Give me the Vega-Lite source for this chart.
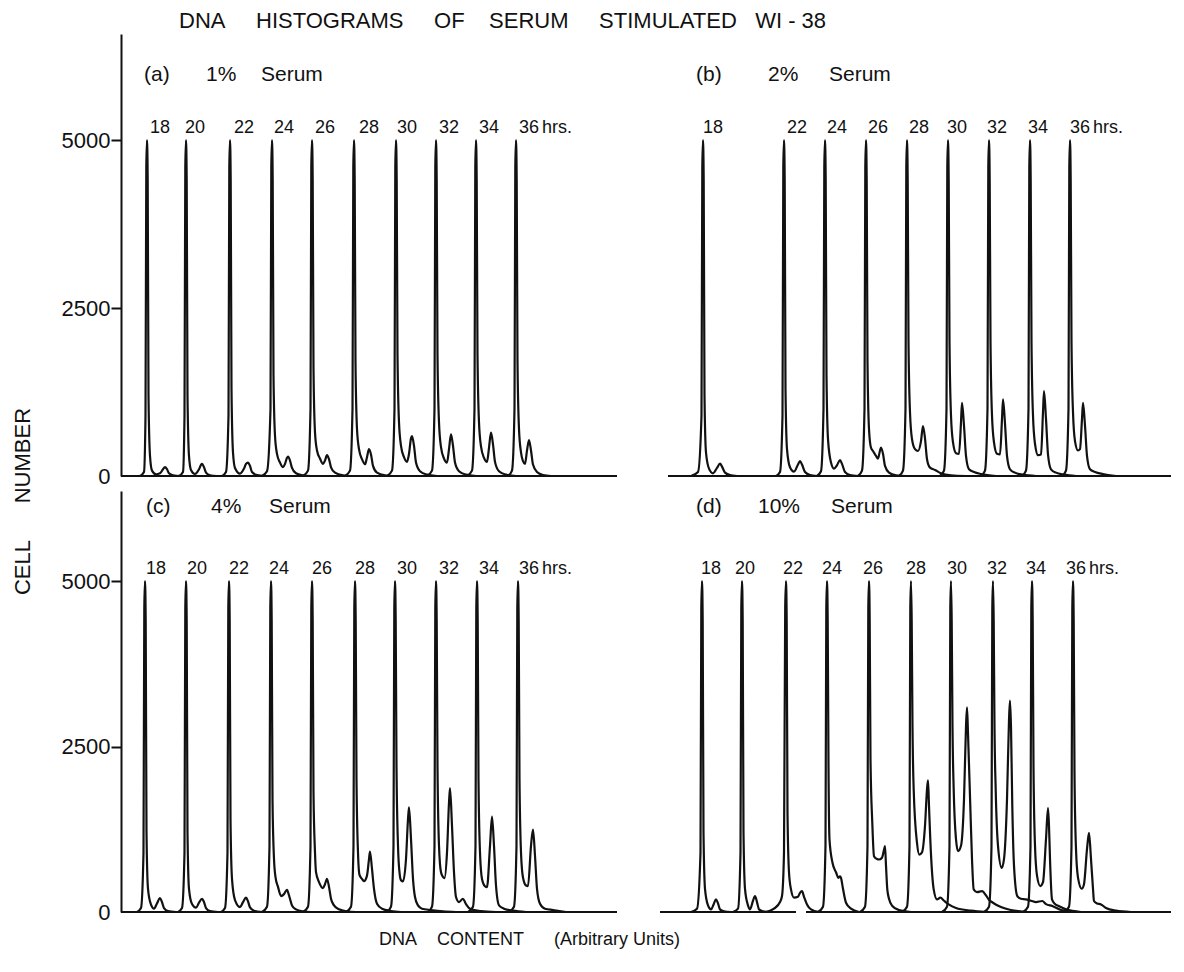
{
"$schema":"https://vega.github.io/schema/vega-lite/v6.json",
"background":"white",
"padding":{"left":11,"top":10,"right":5,"bottom":5},
"bounds":"flush",
"spacing":15,
"title":{"text":"DNA\u00a0\u00a0\u00a0\u00a0\u00a0HISTOGRAMS\u00a0\u00a0\u00a0\u00a0\u00a0OF\u00a0\u00a0\u00a0\u00a0SERUM\u00a0\u00a0\u00a0\u00a0\u00a0STIMULATED\u00a0\u00a0\u00a0WI\u00a0-\u00a038","anchor":"start","dx":168,"fontSize":22,"font":"Liberation Sans","fontWeight":"normal","color":"#111","offset":-16,"baseline":"alphabetic"},
"config":{"view":{"stroke":null},"axis":{"grid":false},"font":"Liberation Sans"},
"datasets":{
"top":[
{"c":"a18","x":19,"y":0},{"c":"a18","x":23,"y":60},{"c":"a18","x":24.5,"y":900},{"c":"a18","x":25.3,"y":4600},{"c":"a18","x":26,"y":5000},{"c":"a18","x":26.7,"y":4400},{"c":"a18","x":27.5,"y":1200},{"c":"a18","x":29,"y":300},{"c":"a18","x":31,"y":80},{"c":"a18","x":35,"y":25},{"c":"a18","x":39,"y":40},{"c":"a18","x":42,"y":100},{"c":"a18","x":44,"y":134},{"c":"a18","x":46,"y":100},{"c":"a18","x":48,"y":40},{"c":"a18","x":52,"y":10},{"c":"a18","x":60,"y":0},
{"c":"a20","x":58,"y":0},{"c":"a20","x":62,"y":60},{"c":"a20","x":63.5,"y":900},{"c":"a20","x":64.3,"y":4600},{"c":"a20","x":65,"y":5000},{"c":"a20","x":65.7,"y":4400},{"c":"a20","x":66.5,"y":1200},{"c":"a20","x":68,"y":300},{"c":"a20","x":70,"y":90},{"c":"a20","x":74,"y":30},{"c":"a20","x":78,"y":100},{"c":"a20","x":80,"y":165},{"c":"a20","x":81,"y":180},{"c":"a20","x":83,"y":130},{"c":"a20","x":85,"y":50},{"c":"a20","x":89,"y":10},{"c":"a20","x":96,"y":0},
{"c":"a22","x":101,"y":0},{"c":"a22","x":105,"y":60},{"c":"a22","x":107.5,"y":900},{"c":"a22","x":108.3,"y":4600},{"c":"a22","x":109,"y":5000},{"c":"a22","x":109.7,"y":4400},{"c":"a22","x":110.5,"y":1300},{"c":"a22","x":112,"y":350},{"c":"a22","x":114,"y":120},{"c":"a22","x":119,"y":35},{"c":"a22","x":123,"y":110},{"c":"a22","x":125,"y":180},{"c":"a22","x":127,"y":200},{"c":"a22","x":129,"y":150},{"c":"a22","x":131,"y":60},{"c":"a22","x":136,"y":15},{"c":"a22","x":144,"y":0},
{"c":"a24","x":141,"y":0},{"c":"a24","x":146,"y":70},{"c":"a24","x":149.5,"y":1000},{"c":"a24","x":150.3,"y":4600},{"c":"a24","x":151,"y":5000},{"c":"a24","x":151.7,"y":4400},{"c":"a24","x":152.5,"y":1500},{"c":"a24","x":154,"y":600},{"c":"a24","x":156,"y":330},{"c":"a24","x":159,"y":200},{"c":"a24","x":162,"y":130},{"c":"a24","x":164,"y":180},{"c":"a24","x":166,"y":270},{"c":"a24","x":167,"y":290},{"c":"a24","x":169,"y":230},{"c":"a24","x":171,"y":120},{"c":"a24","x":175,"y":40},{"c":"a24","x":182,"y":10},{"c":"a24","x":190,"y":0},
{"c":"a26","x":182,"y":0},{"c":"a26","x":187,"y":80},{"c":"a26","x":189.5,"y":1000},{"c":"a26","x":190.3,"y":4600},{"c":"a26","x":191,"y":5000},{"c":"a26","x":191.7,"y":4400},{"c":"a26","x":192.5,"y":1600},{"c":"a26","x":194,"y":650},{"c":"a26","x":196,"y":380},{"c":"a26","x":199,"y":260},{"c":"a26","x":202,"y":180},{"c":"a26","x":204,"y":230},{"c":"a26","x":206,"y":310},{"c":"a26","x":208,"y":250},{"c":"a26","x":210,"y":130},{"c":"a26","x":214,"y":50},{"c":"a26","x":222,"y":10},{"c":"a26","x":230,"y":0},
{"c":"a28","x":224,"y":0},{"c":"a28","x":229,"y":80},{"c":"a28","x":231.5,"y":1000},{"c":"a28","x":232.3,"y":4600},{"c":"a28","x":233,"y":5000},{"c":"a28","x":233.7,"y":4400},{"c":"a28","x":234.5,"y":1700},{"c":"a28","x":236,"y":700},{"c":"a28","x":238,"y":400},{"c":"a28","x":241,"y":250},{"c":"a28","x":244,"y":175},{"c":"a28","x":246,"y":280},{"c":"a28","x":248,"y":400},{"c":"a28","x":250,"y":320},{"c":"a28","x":252,"y":150},{"c":"a28","x":256,"y":50},{"c":"a28","x":264,"y":10},{"c":"a28","x":272,"y":0},
{"c":"a30","x":266,"y":0},{"c":"a30","x":271,"y":80},{"c":"a30","x":273.5,"y":1000},{"c":"a30","x":274.3,"y":4600},{"c":"a30","x":275,"y":5000},{"c":"a30","x":275.7,"y":4400},{"c":"a30","x":276.5,"y":1800},{"c":"a30","x":278,"y":800},{"c":"a30","x":280,"y":450},{"c":"a30","x":283,"y":280},{"c":"a30","x":286,"y":210},{"c":"a30","x":288,"y":330},{"c":"a30","x":290,"y":560},{"c":"a30","x":291,"y":595},{"c":"a30","x":293,"y":450},{"c":"a30","x":295,"y":200},{"c":"a30","x":299,"y":70},{"c":"a30","x":306,"y":20},{"c":"a30","x":316,"y":0},
{"c":"a32","x":306,"y":0},{"c":"a32","x":311,"y":80},{"c":"a32","x":313.5,"y":1000},{"c":"a32","x":314.3,"y":4600},{"c":"a32","x":315,"y":5000},{"c":"a32","x":315.7,"y":4400},{"c":"a32","x":316.5,"y":1800},{"c":"a32","x":318,"y":800},{"c":"a32","x":320,"y":430},{"c":"a32","x":323,"y":260},{"c":"a32","x":326,"y":200},{"c":"a32","x":328,"y":400},{"c":"a32","x":330,"y":620},{"c":"a32","x":332,"y":450},{"c":"a32","x":334,"y":200},{"c":"a32","x":338,"y":70},{"c":"a32","x":345,"y":20},{"c":"a32","x":355,"y":0},
{"c":"a34","x":346,"y":0},{"c":"a34","x":351,"y":80},{"c":"a34","x":353.5,"y":1000},{"c":"a34","x":354.3,"y":4600},{"c":"a34","x":355,"y":5000},{"c":"a34","x":355.7,"y":4400},{"c":"a34","x":356.5,"y":1800},{"c":"a34","x":358,"y":800},{"c":"a34","x":360,"y":440},{"c":"a34","x":363,"y":270},{"c":"a34","x":366,"y":210},{"c":"a34","x":368,"y":420},{"c":"a34","x":370,"y":645},{"c":"a34","x":372,"y":470},{"c":"a34","x":374,"y":210},{"c":"a34","x":378,"y":70},{"c":"a34","x":385,"y":20},{"c":"a34","x":395,"y":0},
{"c":"a36","x":387,"y":0},{"c":"a36","x":391,"y":80},{"c":"a36","x":393.5,"y":1000},{"c":"a36","x":394.3,"y":4600},{"c":"a36","x":395,"y":5000},{"c":"a36","x":395.7,"y":4400},{"c":"a36","x":396.5,"y":1700},{"c":"a36","x":398,"y":700},{"c":"a36","x":400,"y":350},{"c":"a36","x":402,"y":220},{"c":"a36","x":404,"y":180},{"c":"a36","x":406,"y":380},{"c":"a36","x":408,"y":535},{"c":"a36","x":410,"y":380},{"c":"a36","x":412,"y":170},{"c":"a36","x":416,"y":60},{"c":"a36","x":422,"y":15},{"c":"a36","x":430,"y":0},
{"c":"b18","x":570,"y":0},{"c":"b18","x":577,"y":60},{"c":"b18","x":580.5,"y":900},{"c":"b18","x":581.3,"y":4600},{"c":"b18","x":582,"y":5000},{"c":"b18","x":582.7,"y":4400},{"c":"b18","x":583.5,"y":1200},{"c":"b18","x":585,"y":350},{"c":"b18","x":588,"y":110},{"c":"b18","x":592,"y":40},{"c":"b18","x":596,"y":120},{"c":"b18","x":599,"y":183},{"c":"b18","x":601,"y":140},{"c":"b18","x":604,"y":50},{"c":"b18","x":609,"y":15},{"c":"b18","x":616,"y":0},
{"c":"b22","x":655,"y":0},{"c":"b22","x":659,"y":60},{"c":"b22","x":661.5,"y":900},{"c":"b22","x":662.3,"y":4600},{"c":"b22","x":663,"y":5000},{"c":"b22","x":663.7,"y":4400},{"c":"b22","x":664.5,"y":1300},{"c":"b22","x":666,"y":400},{"c":"b22","x":669,"y":130},{"c":"b22","x":673,"y":65},{"c":"b22","x":677,"y":170},{"c":"b22","x":679,"y":223},{"c":"b22","x":681,"y":170},{"c":"b22","x":684,"y":60},{"c":"b22","x":689,"y":15},{"c":"b22","x":696,"y":0},
{"c":"b24","x":696,"y":0},{"c":"b24","x":700,"y":70},{"c":"b24","x":702.5,"y":1000},{"c":"b24","x":703.3,"y":4600},{"c":"b24","x":704,"y":5000},{"c":"b24","x":704.7,"y":4400},{"c":"b24","x":705.5,"y":1500},{"c":"b24","x":707,"y":550},{"c":"b24","x":710,"y":200},{"c":"b24","x":713,"y":110},{"c":"b24","x":716,"y":160},{"c":"b24","x":719,"y":238},{"c":"b24","x":721,"y":180},{"c":"b24","x":724,"y":60},{"c":"b24","x":729,"y":15},{"c":"b24","x":737,"y":0},
{"c":"b26","x":737,"y":0},{"c":"b26","x":741,"y":80},{"c":"b26","x":743.5,"y":1000},{"c":"b26","x":744.3,"y":4600},{"c":"b26","x":745,"y":5000},{"c":"b26","x":745.7,"y":4400},{"c":"b26","x":746.5,"y":1700},{"c":"b26","x":748,"y":700},{"c":"b26","x":750,"y":420},{"c":"b26","x":752,"y":372},{"c":"b26","x":755,"y":300},{"c":"b26","x":757,"y":260},{"c":"b26","x":759,"y":380},{"c":"b26","x":760,"y":422},{"c":"b26","x":762,"y":330},{"c":"b26","x":764,"y":150},{"c":"b26","x":768,"y":50},{"c":"b26","x":775,"y":10},{"c":"b26","x":785,"y":0},
{"c":"b28","x":778,"y":0},{"c":"b28","x":782,"y":80},{"c":"b28","x":784.5,"y":1000},{"c":"b28","x":785.3,"y":4600},{"c":"b28","x":786,"y":5000},{"c":"b28","x":786.7,"y":4400},{"c":"b28","x":787.5,"y":2000},{"c":"b28","x":789,"y":950},{"c":"b28","x":791,"y":550},{"c":"b28","x":794,"y":400},{"c":"b28","x":797,"y":372},{"c":"b28","x":800,"y":520},{"c":"b28","x":802,"y":744},{"c":"b28","x":804,"y":560},{"c":"b28","x":806,"y":250},{"c":"b28","x":809,"y":124},{"c":"b28","x":814,"y":90},{"c":"b28","x":820,"y":40},{"c":"b28","x":830,"y":10},{"c":"b28","x":845,"y":0},
{"c":"b30","x":819,"y":0},{"c":"b30","x":823,"y":80},{"c":"b30","x":825.5,"y":1000},{"c":"b30","x":826.3,"y":4600},{"c":"b30","x":827,"y":5000},{"c":"b30","x":827.7,"y":4400},{"c":"b30","x":828.5,"y":2000},{"c":"b30","x":830,"y":900},{"c":"b30","x":832,"y":500},{"c":"b30","x":835,"y":340},{"c":"b30","x":838,"y":330},{"c":"b30","x":840,"y":800},{"c":"b30","x":841,"y":1090},{"c":"b30","x":843,"y":750},{"c":"b30","x":845,"y":300},{"c":"b30","x":848,"y":100},{"c":"b30","x":853,"y":60},{"c":"b30","x":860,"y":30},{"c":"b30","x":875,"y":0},
{"c":"b32","x":860,"y":0},{"c":"b32","x":864,"y":80},{"c":"b32","x":866.5,"y":1000},{"c":"b32","x":867.3,"y":4600},{"c":"b32","x":868,"y":5000},{"c":"b32","x":868.7,"y":4400},{"c":"b32","x":869.5,"y":2000},{"c":"b32","x":871,"y":900},{"c":"b32","x":873,"y":500},{"c":"b32","x":876,"y":330},{"c":"b32","x":879,"y":320},{"c":"b32","x":881,"y":850},{"c":"b32","x":882,"y":1141},{"c":"b32","x":884,"y":780},{"c":"b32","x":886,"y":300},{"c":"b32","x":889,"y":100},{"c":"b32","x":894,"y":50},{"c":"b32","x":902,"y":20},{"c":"b32","x":915,"y":0},
{"c":"b34","x":901,"y":0},{"c":"b34","x":905,"y":80},{"c":"b34","x":907.5,"y":1000},{"c":"b34","x":908.3,"y":4600},{"c":"b34","x":909,"y":5000},{"c":"b34","x":909.7,"y":4400},{"c":"b34","x":910.5,"y":2000},{"c":"b34","x":912,"y":900},{"c":"b34","x":914,"y":480},{"c":"b34","x":917,"y":310},{"c":"b34","x":920,"y":320},{"c":"b34","x":922,"y":950},{"c":"b34","x":923,"y":1265},{"c":"b34","x":925,"y":850},{"c":"b34","x":927,"y":320},{"c":"b34","x":930,"y":100},{"c":"b34","x":935,"y":50},{"c":"b34","x":943,"y":20},{"c":"b34","x":955,"y":0},
{"c":"b36","x":941,"y":0},{"c":"b36","x":945,"y":80},{"c":"b36","x":947.5,"y":1000},{"c":"b36","x":948.3,"y":4600},{"c":"b36","x":949,"y":5000},{"c":"b36","x":949.7,"y":4400},{"c":"b36","x":950.5,"y":2000},{"c":"b36","x":952,"y":950},{"c":"b36","x":954,"y":520},{"c":"b36","x":957,"y":380},{"c":"b36","x":959,"y":400},{"c":"b36","x":961,"y":850},{"c":"b36","x":962,"y":1090},{"c":"b36","x":964,"y":750},{"c":"b36","x":966,"y":300},{"c":"b36","x":969,"y":100},{"c":"b36","x":974,"y":60},{"c":"b36","x":982,"y":30},{"c":"b36","x":995,"y":0}
],
"bot":[
{"c":"c18","x":16,"y":0},{"c":"c18","x":20,"y":60},{"c":"c18","x":22.5,"y":900},{"c":"c18","x":23.3,"y":4600},{"c":"c18","x":24,"y":5000},{"c":"c18","x":24.7,"y":4400},{"c":"c18","x":25.5,"y":1200},{"c":"c18","x":27,"y":350},{"c":"c18","x":30,"y":110},{"c":"c18","x":33,"y":50},{"c":"c18","x":36,"y":130},{"c":"c18","x":39,"y":211},{"c":"c18","x":41,"y":150},{"c":"c18","x":43,"y":60},{"c":"c18","x":47,"y":15},{"c":"c18","x":55,"y":0},
{"c":"c20","x":57,"y":0},{"c":"c20","x":61,"y":60},{"c":"c20","x":63.5,"y":900},{"c":"c20","x":64.3,"y":4600},{"c":"c20","x":65,"y":5000},{"c":"c20","x":65.7,"y":4400},{"c":"c20","x":66.5,"y":1200},{"c":"c20","x":68,"y":350},{"c":"c20","x":71,"y":120},{"c":"c20","x":75,"y":65},{"c":"c20","x":78,"y":140},{"c":"c20","x":81,"y":200},{"c":"c20","x":83,"y":150},{"c":"c20","x":85,"y":60},{"c":"c20","x":89,"y":15},{"c":"c20","x":97,"y":0},
{"c":"c22","x":100,"y":0},{"c":"c22","x":104,"y":60},{"c":"c22","x":106.5,"y":900},{"c":"c22","x":107.3,"y":4600},{"c":"c22","x":108,"y":5000},{"c":"c22","x":108.7,"y":4400},{"c":"c22","x":109.5,"y":1400},{"c":"c22","x":111,"y":500},{"c":"c22","x":114,"y":180},{"c":"c22","x":119,"y":75},{"c":"c22","x":122,"y":150},{"c":"c22","x":125,"y":216},{"c":"c22","x":127,"y":160},{"c":"c22","x":129,"y":70},{"c":"c22","x":133,"y":20},{"c":"c22","x":141,"y":0},
{"c":"c24","x":141,"y":0},{"c":"c24","x":146,"y":80},{"c":"c24","x":148.5,"y":1000},{"c":"c24","x":149.3,"y":4600},{"c":"c24","x":150,"y":5000},{"c":"c24","x":150.7,"y":4400},{"c":"c24","x":151.5,"y":1700},{"c":"c24","x":153,"y":800},{"c":"c24","x":154.5,"y":527},{"c":"c24","x":157,"y":380},{"c":"c24","x":160,"y":241},{"c":"c24","x":163,"y":270},{"c":"c24","x":166,"y":336},{"c":"c24","x":168,"y":250},{"c":"c24","x":171,"y":100},{"c":"c24","x":175,"y":40},{"c":"c24","x":182,"y":10},{"c":"c24","x":190,"y":0},
{"c":"c26","x":182,"y":0},{"c":"c26","x":187,"y":80},{"c":"c26","x":189.5,"y":1000},{"c":"c26","x":190.3,"y":4600},{"c":"c26","x":191,"y":5000},{"c":"c26","x":191.7,"y":4400},{"c":"c26","x":192.5,"y":1800},{"c":"c26","x":194,"y":900},{"c":"c26","x":195,"y":602},{"c":"c26","x":198,"y":452},{"c":"c26","x":202,"y":361},{"c":"c26","x":204,"y":420},{"c":"c26","x":206,"y":502},{"c":"c26","x":208,"y":380},{"c":"c26","x":210,"y":200},{"c":"c26","x":213,"y":100},{"c":"c26","x":218,"y":40},{"c":"c26","x":226,"y":10},{"c":"c26","x":235,"y":0},
{"c":"c28","x":225,"y":0},{"c":"c28","x":230,"y":80},{"c":"c28","x":232.5,"y":1000},{"c":"c28","x":233.3,"y":4600},{"c":"c28","x":234,"y":5000},{"c":"c28","x":234.7,"y":4400},{"c":"c28","x":235.5,"y":2000},{"c":"c28","x":237,"y":900},{"c":"c28","x":238.5,"y":560},{"c":"c28","x":241,"y":500},{"c":"c28","x":243,"y":467},{"c":"c28","x":246,"y":550},{"c":"c28","x":248,"y":800},{"c":"c28","x":249,"y":914},{"c":"c28","x":251,"y":650},{"c":"c28","x":253,"y":350},{"c":"c28","x":256,"y":125},{"c":"c28","x":261,"y":50},{"c":"c28","x":270,"y":15},{"c":"c28","x":280,"y":0},
{"c":"c30","x":266,"y":0},{"c":"c30","x":270,"y":80},{"c":"c30","x":272.5,"y":1000},{"c":"c30","x":273.3,"y":4600},{"c":"c30","x":274,"y":5000},{"c":"c30","x":274.7,"y":4400},{"c":"c30","x":275.5,"y":2200},{"c":"c30","x":277,"y":1000},{"c":"c30","x":278.5,"y":600},{"c":"c30","x":280,"y":480},{"c":"c30","x":282,"y":462},{"c":"c30","x":285,"y":800},{"c":"c30","x":287,"y":1400},{"c":"c30","x":288,"y":1581},{"c":"c30","x":290,"y":1100},{"c":"c30","x":292,"y":500},{"c":"c30","x":294,"y":226},{"c":"c30","x":297,"y":100},{"c":"c30","x":301,"y":50},{"c":"c30","x":310,"y":30},{"c":"c30","x":322,"y":10},{"c":"c30","x":335,"y":0},
{"c":"c32","x":307,"y":0},{"c":"c32","x":311,"y":80},{"c":"c32","x":313.5,"y":1000},{"c":"c32","x":314.3,"y":4600},{"c":"c32","x":315,"y":5000},{"c":"c32","x":315.7,"y":4400},{"c":"c32","x":316.5,"y":2200},{"c":"c32","x":318,"y":1000},{"c":"c32","x":320,"y":600},{"c":"c32","x":322,"y":530},{"c":"c32","x":323.5,"y":512},{"c":"c32","x":326,"y":900},{"c":"c32","x":328,"y":1650},{"c":"c32","x":329,"y":1872},{"c":"c32","x":331,"y":1300},{"c":"c32","x":333,"y":600},{"c":"c32","x":335,"y":226},{"c":"c32","x":338,"y":150},{"c":"c32","x":342,"y":200},{"c":"c32","x":345,"y":120},{"c":"c32","x":350,"y":40},{"c":"c32","x":360,"y":15},{"c":"c32","x":375,"y":0},
{"c":"c34","x":347,"y":0},{"c":"c34","x":352,"y":80},{"c":"c34","x":354.5,"y":1000},{"c":"c34","x":355.3,"y":4600},{"c":"c34","x":356,"y":5000},{"c":"c34","x":356.7,"y":4400},{"c":"c34","x":357.5,"y":2000},{"c":"c34","x":359,"y":900},{"c":"c34","x":361,"y":500},{"c":"c34","x":364,"y":390},{"c":"c34","x":366,"y":376},{"c":"c34","x":369,"y":1000},{"c":"c34","x":371,"y":1441},{"c":"c34","x":373,"y":1000},{"c":"c34","x":375,"y":400},{"c":"c34","x":378,"y":100},{"c":"c34","x":383,"y":50},{"c":"c34","x":392,"y":20},{"c":"c34","x":405,"y":0},
{"c":"c36","x":388,"y":0},{"c":"c36","x":393,"y":80},{"c":"c36","x":395.5,"y":1000},{"c":"c36","x":396.3,"y":4600},{"c":"c36","x":397,"y":5000},{"c":"c36","x":397.7,"y":4400},{"c":"c36","x":398.5,"y":2000},{"c":"c36","x":400,"y":900},{"c":"c36","x":402,"y":520},{"c":"c36","x":405,"y":400},{"c":"c36","x":407,"y":392},{"c":"c36","x":410,"y":1000},{"c":"c36","x":412,"y":1245},{"c":"c36","x":414,"y":850},{"c":"c36","x":416,"y":350},{"c":"c36","x":419,"y":125},{"c":"c36","x":424,"y":50},{"c":"c36","x":432,"y":30},{"c":"c36","x":445,"y":0},
{"c":"d18","x":570,"y":0},{"c":"d18","x":576,"y":50},{"c":"d18","x":579.5,"y":900},{"c":"d18","x":580.3,"y":4600},{"c":"d18","x":581,"y":5000},{"c":"d18","x":581.7,"y":4400},{"c":"d18","x":582.5,"y":1200},{"c":"d18","x":584,"y":350},{"c":"d18","x":587,"y":100},{"c":"d18","x":590,"y":40},{"c":"d18","x":593,"y":130},{"c":"d18","x":595,"y":191},{"c":"d18","x":597,"y":130},{"c":"d18","x":599,"y":40},{"c":"d18","x":603,"y":10},{"c":"d18","x":610,"y":0},
{"c":"d20","x":612,"y":0},{"c":"d20","x":617,"y":50},{"c":"d20","x":619.5,"y":900},{"c":"d20","x":620.3,"y":4600},{"c":"d20","x":621,"y":5000},{"c":"d20","x":621.7,"y":4400},{"c":"d20","x":622.5,"y":1200},{"c":"d20","x":624,"y":350},{"c":"d20","x":627,"y":100},{"c":"d20","x":629,"y":40},{"c":"d20","x":632,"y":170},{"c":"d20","x":634,"y":241},{"c":"d20","x":636,"y":150},{"c":"d20","x":638,"y":40},{"c":"d20","x":642,"y":10},{"c":"d20","x":650,"y":0},
{"c":"d22","x":645,"y":0},{"c":"d22","x":653,"y":50},{"c":"d22","x":659,"y":150},{"c":"d22","x":661,"y":241},{"c":"d22","x":663,"y":900},{"c":"d22","x":664.2,"y":4600},{"c":"d22","x":665,"y":5000},{"c":"d22","x":665.7,"y":4400},{"c":"d22","x":666.5,"y":1500},{"c":"d22","x":668,"y":600},{"c":"d22","x":670,"y":341},{"c":"d22","x":673,"y":216},{"c":"d22","x":677,"y":230},{"c":"d22","x":679,"y":290},{"c":"d22","x":681,"y":316},{"c":"d22","x":683,"y":230},{"c":"d22","x":686,"y":115},{"c":"d22","x":690,"y":40},{"c":"d22","x":698,"y":0},
{"c":"d24","x":697,"y":0},{"c":"d24","x":702,"y":80},{"c":"d24","x":704.5,"y":1000},{"c":"d24","x":705.3,"y":4600},{"c":"d24","x":706,"y":5000},{"c":"d24","x":706.7,"y":4400},{"c":"d24","x":707.5,"y":2200},{"c":"d24","x":708.5,"y":1094},{"c":"d24","x":711.5,"y":743},{"c":"d24","x":715,"y":600},{"c":"d24","x":717.5,"y":517},{"c":"d24","x":719,"y":540},{"c":"d24","x":720,"y":517},{"c":"d24","x":722,"y":350},{"c":"d24","x":725,"y":140},{"c":"d24","x":730,"y":50},{"c":"d24","x":738,"y":0},
{"c":"d26","x":739,"y":0},{"c":"d26","x":744,"y":80},{"c":"d26","x":746.5,"y":1000},{"c":"d26","x":747.3,"y":4600},{"c":"d26","x":748,"y":5000},{"c":"d26","x":748.7,"y":4400},{"c":"d26","x":749.5,"y":2300},{"c":"d26","x":751.3,"y":1345},{"c":"d26","x":753,"y":843},{"c":"d26","x":756,"y":800},{"c":"d26","x":758,"y":793},{"c":"d26","x":761,"y":820},{"c":"d26","x":763,"y":940},{"c":"d26","x":764,"y":994},{"c":"d26","x":765,"y":700},{"c":"d26","x":766.3,"y":341},{"c":"d26","x":768,"y":200},{"c":"d26","x":771.3,"y":90},{"c":"d26","x":778,"y":30},{"c":"d26","x":790,"y":0},
{"c":"d28","x":781,"y":0},{"c":"d28","x":786,"y":80},{"c":"d28","x":788.5,"y":1000},{"c":"d28","x":789.3,"y":4600},{"c":"d28","x":790,"y":5000},{"c":"d28","x":790.7,"y":4400},{"c":"d28","x":791.5,"y":2800},{"c":"d28","x":792.7,"y":1847},{"c":"d28","x":796,"y":1044},{"c":"d28","x":798.3,"y":868},{"c":"d28","x":801,"y":900},{"c":"d28","x":804,"y":1300},{"c":"d28","x":806,"y":1850},{"c":"d28","x":807,"y":1988},{"c":"d28","x":808,"y":1600},{"c":"d28","x":809.3,"y":1094},{"c":"d28","x":812.7,"y":341},{"c":"d28","x":816,"y":190},{"c":"d28","x":819.3,"y":216},{"c":"d28","x":823,"y":170},{"c":"d28","x":827.7,"y":115},{"c":"d28","x":835,"y":60},{"c":"d28","x":850,"y":20},{"c":"d28","x":865,"y":0},
{"c":"d30","x":821,"y":0},{"c":"d30","x":826,"y":80},{"c":"d30","x":828.5,"y":1000},{"c":"d30","x":829.3,"y":4600},{"c":"d30","x":830,"y":5000},{"c":"d30","x":830.7,"y":4400},{"c":"d30","x":831.5,"y":2800},{"c":"d30","x":832.7,"y":1847},{"c":"d30","x":835,"y":1100},{"c":"d30","x":837,"y":919},{"c":"d30","x":840,"y":1000},{"c":"d30","x":843,"y":1700},{"c":"d30","x":845,"y":2800},{"c":"d30","x":846,"y":3092},{"c":"d30","x":847,"y":2700},{"c":"d30","x":849.3,"y":1596},{"c":"d30","x":851,"y":800},{"c":"d30","x":852.7,"y":341},{"c":"d30","x":856,"y":300},{"c":"d30","x":861,"y":316},{"c":"d30","x":865,"y":250},{"c":"d30","x":867.7,"y":190},{"c":"d30","x":872,"y":140},{"c":"d30","x":877.7,"y":90},{"c":"d30","x":890,"y":30},{"c":"d30","x":905,"y":0},
{"c":"d32","x":863,"y":0},{"c":"d32","x":868,"y":80},{"c":"d32","x":870.5,"y":1000},{"c":"d32","x":871.3,"y":4600},{"c":"d32","x":872,"y":5000},{"c":"d32","x":872.7,"y":4400},{"c":"d32","x":873.5,"y":2800},{"c":"d32","x":874.7,"y":1847},{"c":"d32","x":877,"y":1000},{"c":"d32","x":880.7,"y":668},{"c":"d32","x":883,"y":800},{"c":"d32","x":886,"y":1700},{"c":"d32","x":888,"y":2900},{"c":"d32","x":889,"y":3193},{"c":"d32","x":890,"y":2800},{"c":"d32","x":891.3,"y":1596},{"c":"d32","x":893,"y":700},{"c":"d32","x":896.3,"y":241},{"c":"d32","x":900,"y":200},{"c":"d32","x":904.7,"y":190},{"c":"d32","x":910,"y":170},{"c":"d32","x":915,"y":150},{"c":"d32","x":921.3,"y":166},{"c":"d32","x":925,"y":120},{"c":"d32","x":931.3,"y":90},{"c":"d32","x":940,"y":30},{"c":"d32","x":955,"y":0},
{"c":"d34","x":902,"y":0},{"c":"d34","x":907,"y":80},{"c":"d34","x":909.5,"y":1000},{"c":"d34","x":910.3,"y":4600},{"c":"d34","x":911,"y":5000},{"c":"d34","x":911.7,"y":4400},{"c":"d34","x":912.5,"y":2200},{"c":"d34","x":914,"y":1000},{"c":"d34","x":916,"y":550},{"c":"d34","x":919.3,"y":392},{"c":"d34","x":922,"y":450},{"c":"d34","x":925,"y":1100},{"c":"d34","x":927,"y":1571},{"c":"d34","x":928,"y":1300},{"c":"d34","x":929,"y":800},{"c":"d34","x":931,"y":190},{"c":"d34","x":934,"y":120},{"c":"d34","x":937.7,"y":90},{"c":"d34","x":945,"y":40},{"c":"d34","x":960,"y":0},
{"c":"d36","x":943,"y":0},{"c":"d36","x":948,"y":80},{"c":"d36","x":950.5,"y":1000},{"c":"d36","x":951.3,"y":4600},{"c":"d36","x":952,"y":5000},{"c":"d36","x":952.7,"y":4400},{"c":"d36","x":953.5,"y":2100},{"c":"d36","x":955,"y":950},{"c":"d36","x":957,"y":520},{"c":"d36","x":960.7,"y":351},{"c":"d36","x":963,"y":420},{"c":"d36","x":966,"y":950},{"c":"d36","x":968,"y":1195},{"c":"d36","x":970,"y":800},{"c":"d36","x":972,"y":350},{"c":"d36","x":973,"y":166},{"c":"d36","x":976,"y":130},{"c":"d36","x":980,"y":115},{"c":"d36","x":985,"y":60},{"c":"d36","x":995,"y":20},{"c":"d36","x":1010,"y":0}
],
"topBase":[{"x":0,"x2":496},{"x":547,"x2":1050}],
"botBase":[{"x":0,"x2":496},{"x":539,"x2":675},{"x":685,"x2":1050}],
"topText":[
{"k":"panel","t":"(a)","x":23,"y":5970},{"k":"panel","t":"1%","x":85,"y":5970},{"k":"panel","t":"Serum","x":140,"y":5970},
{"k":"panel","t":"(b)","x":575,"y":5970},{"k":"panel","t":"2%","x":647,"y":5970},{"k":"panel","t":"Serum","x":708,"y":5970},
{"k":"time","t":"18","x":29,"y":5181},{"k":"time","t":"20","x":64,"y":5181},{"k":"time","t":"22","x":113,"y":5181},{"k":"time","t":"24","x":153,"y":5181},{"k":"time","t":"26","x":194,"y":5181},{"k":"time","t":"28","x":238,"y":5181},{"k":"time","t":"30","x":276,"y":5181},{"k":"time","t":"32","x":318,"y":5181},{"k":"time","t":"34","x":358,"y":5181},{"k":"time","t":"36","x":398,"y":5181},{"k":"time","t":"hrs.","x":421,"y":5181},
{"k":"time","t":"18","x":582,"y":5181},{"k":"time","t":"22","x":666,"y":5181},{"k":"time","t":"24","x":706,"y":5181},{"k":"time","t":"26","x":747,"y":5181},{"k":"time","t":"28","x":788,"y":5181},{"k":"time","t":"30","x":826,"y":5181},{"k":"time","t":"32","x":866,"y":5181},{"k":"time","t":"34","x":907,"y":5181},{"k":"time","t":"36","x":949,"y":5181},{"k":"time","t":"hrs.","x":972,"y":5181}
],
"botText":[
{"k":"panel","t":"(c)","x":25,"y":6118},{"k":"panel","t":"4%","x":90,"y":6118},{"k":"panel","t":"Serum","x":148,"y":6118},
{"k":"panel","t":"(d)","x":575,"y":6118},{"k":"panel","t":"10%","x":637,"y":6118},{"k":"panel","t":"Serum","x":710,"y":6118},
{"k":"time","t":"18","x":25,"y":5182},{"k":"time","t":"20","x":66,"y":5182},{"k":"time","t":"22","x":108,"y":5182},{"k":"time","t":"24","x":148,"y":5182},{"k":"time","t":"26","x":191,"y":5182},{"k":"time","t":"28","x":234,"y":5182},{"k":"time","t":"30","x":276,"y":5182},{"k":"time","t":"32","x":318,"y":5182},{"k":"time","t":"34","x":358,"y":5182},{"k":"time","t":"36","x":398,"y":5182},{"k":"time","t":"hrs.","x":421,"y":5182},
{"k":"time","t":"18","x":580,"y":5182},{"k":"time","t":"20","x":614,"y":5182},{"k":"time","t":"22","x":662,"y":5182},{"k":"time","t":"24","x":701,"y":5182},{"k":"time","t":"26","x":742,"y":5182},{"k":"time","t":"28","x":785,"y":5182},{"k":"time","t":"30","x":826,"y":5182},{"k":"time","t":"32","x":866,"y":5182},{"k":"time","t":"34","x":905,"y":5182},{"k":"time","t":"36","x":945,"y":5182},{"k":"time","t":"hrs.","x":968,"y":5182}
]
},
"vconcat":[
{
"width":1050,"height":442,
"layer":[
{"data":{"name":"top"},"mark":{"type":"line","color":"#111","strokeWidth":2.2,"strokeJoin":"round","interpolate":"monotone"},
 "encoding":{
  "x":{"field":"x","type":"quantitative","scale":{"domain":[0,1050],"nice":false,"zero":false},"axis":null},
  "y":{"field":"y","type":"quantitative","scale":{"domain":[0,6580],"nice":false},
       "axis":{"values":[0,2500,5000],"format":"d","title":"CELL\u00a0\u00a0\u00a0\u00a0\u00a0\u00a0NUMBER","titleX":-99,"titleY":467,"titleAngle":-90,"titleAlign":"center","titleBaseline":"middle","titleFontSize":22,"titleFontWeight":"normal","titleFont":"Liberation Sans","titleColor":"#111","labelFontSize":22,"labelFont":"Liberation Sans","labelColor":"#111","labelPadding":1,"tickSize":10,"tickWidth":2,"tickColor":"#111","tickOpacity":{"condition":{"test":"datum.value === 0","value":0},"value":1},"domainWidth":2,"domainColor":"#111"}},
  "detail":{"field":"c","type":"nominal"}}},
{"data":{"name":"topBase"},"mark":{"type":"rule","color":"#111","strokeWidth":2},
 "encoding":{"x":{"field":"x","type":"quantitative"},"x2":{"field":"x2"},"y":{"datum":0,"type":"quantitative"}}},
{"data":{"name":"topText"},"transform":[{"filter":"datum.k === 'panel'"}],"mark":{"type":"text","align":"left","baseline":"middle","fontSize":21,"font":"Liberation Sans","color":"#111"},
 "encoding":{"x":{"field":"x","type":"quantitative"},"y":{"field":"y","type":"quantitative"},"text":{"field":"t"}}},
{"data":{"name":"topText"},"transform":[{"filter":"datum.k === 'time'"}],"mark":{"type":"text","align":"left","baseline":"middle","fontSize":18,"font":"Liberation Sans","color":"#111"},
 "encoding":{"x":{"field":"x","type":"quantitative"},"y":{"field":"y","type":"quantitative"},"text":{"field":"t"}}}
]
},
{
"width":1050,"height":421,
"layer":[
{"data":{"name":"bot"},"mark":{"type":"line","color":"#111","strokeWidth":2.2,"strokeJoin":"round","interpolate":"monotone"},
 "encoding":{
  "x":{"field":"x","type":"quantitative","scale":{"domain":[0,1050],"nice":false,"zero":false},
       "axis":{"title":"DNA\u00a0\u00a0\u00a0\u00a0CONTENT\u00a0\u00a0\u00a0\u00a0\u00a0\u00a0(Arbitrary\u00a0Units)","labels":false,"ticks":false,"domain":false,"titleX":408,"titleY":27,"titleAlign":"center","titleBaseline":"middle","titleFontSize":18,"titleFontWeight":"normal","titleFont":"Liberation Sans","titleColor":"#111"}},
  "y":{"field":"y","type":"quantitative","scale":{"domain":[0,6360],"nice":false},
       "axis":{"values":[0,2500,5000],"format":"d","title":null,"labelFontSize":22,"labelFont":"Liberation Sans","labelColor":"#111","labelPadding":1,"tickSize":10,"tickWidth":2,"tickColor":"#111","tickOpacity":{"condition":{"test":"datum.value === 0","value":0},"value":1},"domainWidth":2,"domainColor":"#111"}},
  "detail":{"field":"c","type":"nominal"}}},
{"data":{"name":"botBase"},"mark":{"type":"rule","color":"#111","strokeWidth":2},
 "encoding":{"x":{"field":"x","type":"quantitative"},"x2":{"field":"x2"},"y":{"datum":0,"type":"quantitative"}}},
{"data":{"name":"botText"},"transform":[{"filter":"datum.k === 'panel'"}],"mark":{"type":"text","align":"left","baseline":"middle","fontSize":21,"font":"Liberation Sans","color":"#111"},
 "encoding":{"x":{"field":"x","type":"quantitative"},"y":{"field":"y","type":"quantitative"},"text":{"field":"t"}}},
{"data":{"name":"botText"},"transform":[{"filter":"datum.k === 'time'"}],"mark":{"type":"text","align":"left","baseline":"middle","fontSize":18,"font":"Liberation Sans","color":"#111"},
 "encoding":{"x":{"field":"x","type":"quantitative"},"y":{"field":"y","type":"quantitative"},"text":{"field":"t"}}}
]
}
]
}
